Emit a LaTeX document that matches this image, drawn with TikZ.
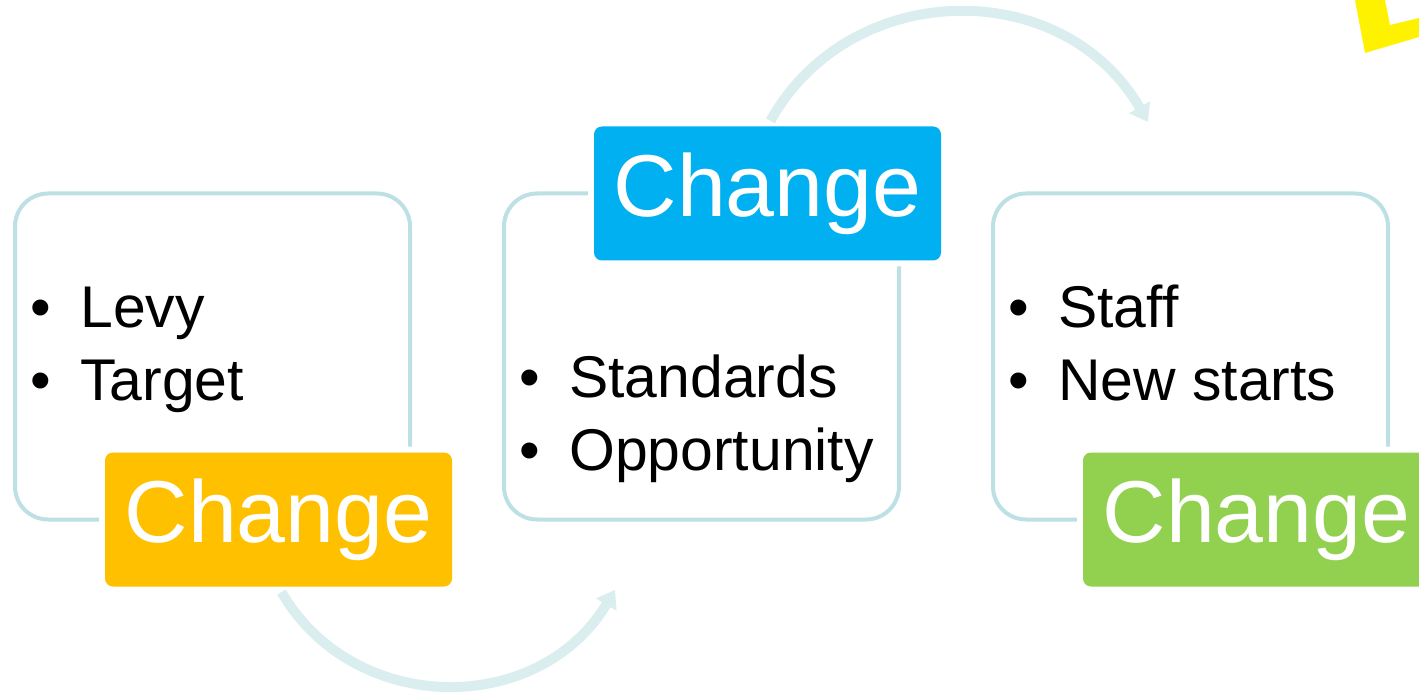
\documentclass[tikz,border=0pt]{standalone}
\usepackage{fontspec}
\setmainfont{Liberation Sans}
\usepackage{xcolor}
\usepackage{tikz}
\usetikzlibrary{positioning,arrows.meta}
\definecolor{boxline}{RGB}{189,224,229}
\definecolor{flowline}{RGB}{218,238,240}
\definecolor{tagorange}{HTML}{FFC000}
\definecolor{tagblue}{HTML}{00B0F0}
\definecolor{taggreen}{HTML}{92D050}
\definecolor{sunyellow}{HTML}{FFF200}

\begin{document}
\begin{tikzpicture}[node distance=1.88cm,
  stage/.style={draw=boxline, line width=0.08cm, fill=white, rounded corners=0.66cm,
    minimum width=7.9cm, minimum height=6.52cm, outer sep=0pt},
  tag/.style={rounded corners=0.16cm, minimum width=6.94cm, minimum height=2.68cm,
    inner sep=0pt, text=white, font=\fontsize{50}{60}\selectfont,
    preaction={draw=white, line width=0.24cm}},
  points/.style={anchor=base west, align=left, inner sep=0pt, font=\fontsize{33.5}{41}\selectfont},
  flow/.style={draw=flowline, line width=0.2cm, -{Triangle[length=0.34cm, width=0.46cm]},
    shorten <=0.12cm}]
\useasboundingbox (0,0) rectangle (28.38,13.82);

% yellow corner at the top right
\fill[sunyellow] (27.10,13.82) -- (27.70,13.82) -- (27.80,13.32) -- (28.38,13.46)
  -- (28.38,13.08) -- (27.30,12.76) -- cycle;

\node[stage] (box1) at (4.25,6.69) {};
\node[stage, right=of box1] (box2) {};
\node[stage, right=of box2] (box3) {};

% base of each list is the baseline of its last line
\node[points] (list1) at ([xshift=0.3cm, yshift=-4.13cm]box1.north west)
  {\makebox[1cm][l]{•}Levy\\\makebox[1cm][l]{•}Target};
\node[points] (list2) at ([xshift=0.3cm, yshift=-5.53cm]box2.north west)
  {\makebox[1cm][l]{•}Standards\\\makebox[1cm][l]{•}Opportunity};
\node[points] (list3) at ([xshift=0.3cm, yshift=-4.13cm]box3.north west)
  {\makebox[1cm][l]{•}Staff\\\makebox[1cm][l]{•}New starts};

\node[tag, fill=tagorange] (tag1) at ([xshift=1.32cm]box1.south) {Change};
\node[tag, fill=tagblue] (tag2) at ([xshift=1.32cm]box2.north) {Change};
\node[tag, fill=taggreen] (tag3) at ([xshift=1.32cm]box3.south) {Change};

\coordinate (tip1) at (12.30,2.02);
\coordinate (tip2) at (22.96,11.38);
\draw[flow] (tag1.south) to[out=-60, in=-121, looseness=1.13] (tip1);
\draw[flow] (tag2.north) to[out=61, in=120, looseness=1.14] (tip2);

\end{tikzpicture}
\end{document}
